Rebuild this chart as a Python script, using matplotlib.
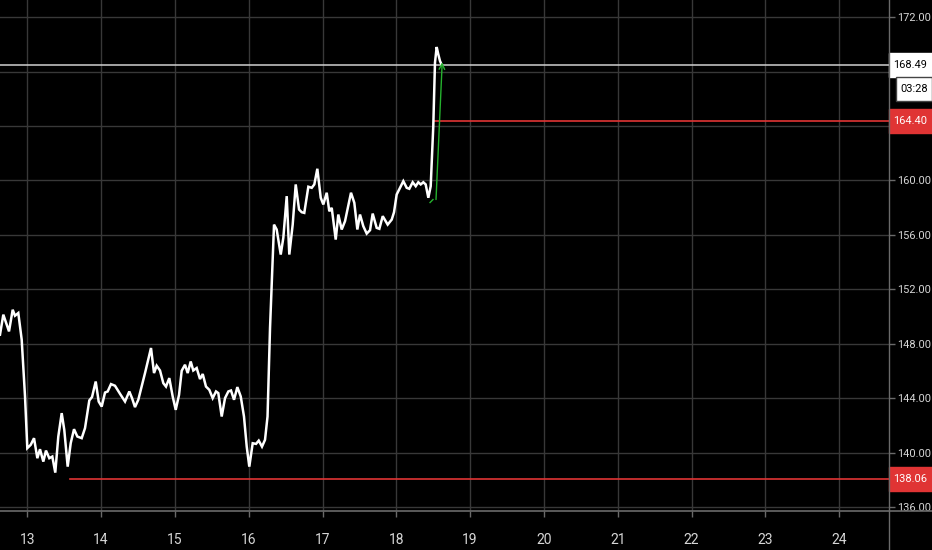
import matplotlib
matplotlib.use("Agg")
import matplotlib.pyplot as plt
import matplotlib.font_manager as fm
from matplotlib.patches import Rectangle
from matplotlib.lines import Line2D
from matplotlib.transforms import blended_transform_factory
import numpy as np

# ---------------- data ----------------
days = [12.630, 12.675, 12.752, 12.802, 12.833, 12.878, 12.924, 12.969, 13.000, 13.046,
        13.091, 13.136, 13.172, 13.217, 13.253, 13.298, 13.339, 13.379, 13.420, 13.466,
        13.501, 13.547, 13.588, 13.633, 13.678, 13.737, 13.782, 13.840, 13.877, 13.927,
        13.967, 14.008, 14.053, 14.089, 14.134, 14.188, 14.256, 14.324, 14.382, 14.419,
        14.459, 14.504, 14.595, 14.676, 14.717, 14.753, 14.798, 14.843, 14.879, 14.924,
        14.970, 15.011, 15.056, 15.092, 15.137, 15.173, 15.214, 15.249, 15.295, 15.340,
        15.377, 15.421, 15.466, 15.512, 15.557, 15.588, 15.634, 15.679, 15.724, 15.760,
        15.801, 15.846, 15.892, 15.936, 15.973, 16.008, 16.054, 16.099, 16.136, 16.180,
        16.221, 16.255, 16.289, 16.343, 16.379, 16.434, 16.469, 16.515, 16.550, 16.596,
        16.637, 16.682, 16.718, 16.753, 16.808, 16.854, 16.889, 16.930, 16.976, 17.011,
        17.057, 17.092, 17.125, 17.179, 17.214, 17.260, 17.305, 17.386, 17.431, 17.472,
        17.508, 17.553, 17.599, 17.644, 17.680, 17.734, 17.770, 17.816, 17.883, 17.938,
        17.969, 18.005, 18.095, 18.141, 18.176, 18.222, 18.263, 18.298, 18.331, 18.366,
        18.398, 18.434, 18.466, 18.501, 18.524, 18.547, 18.569, 18.592, 18.615]
prices = [148.68, 150.15, 148.92, 150.51, 150.07, 150.27, 148.31, 144.14, 140.35, 140.59,
          141.08, 139.61, 140.27, 139.36, 140.17, 139.61, 139.73, 138.55, 141.20, 142.92,
          141.69, 138.99, 140.71, 141.74, 141.20, 141.08, 141.82, 143.85, 144.10, 145.24,
          143.77, 143.40, 144.43, 144.51, 145.05, 144.93, 144.34, 143.77, 144.51, 144.02,
          143.36, 143.90, 145.86, 147.70, 145.86, 146.40, 146.05, 145.12, 144.87, 145.49,
          144.14, 143.16, 144.26, 146.03, 146.47, 145.86, 146.71, 146.05, 146.23, 145.42,
          145.79, 144.87, 144.63, 144.02, 144.51, 144.39, 142.67, 144.02, 144.51, 144.58,
          143.90, 144.83, 144.14, 142.67, 140.46, 138.99, 140.71, 140.66, 140.90, 140.46,
          140.96, 142.67, 149.19, 156.76, 156.40, 154.56, 155.79, 158.85, 154.56, 156.76,
          159.71, 157.87, 157.67, 157.62, 159.54, 159.46, 159.71, 160.86, 158.73, 158.24,
          159.10, 157.74, 157.99, 155.66, 157.50, 156.40, 157.01, 159.10, 158.36, 156.40,
          157.50, 156.64, 156.10, 156.35, 157.57, 156.52, 156.45, 157.38, 156.76, 157.13,
          157.67, 158.97, 159.95, 159.46, 159.39, 159.87, 159.58, 159.87, 159.71, 159.87,
          159.71, 158.73, 159.58, 163.99, 168.65, 169.80, 169.26, 168.77, 168.49]

last_price = 168.49
last_label = "168.49"
countdown = "03:28"

level_values = [164.40, 138.06]
level_labels = ["164.40", "138.06"]
level_starts = [18.515, 13.58]

arrow_days = [18.538, 18.622]
arrow_prices = [158.60, 168.68]
dash_days = [18.457, 18.497]
dash_prices = [158.38, 158.60]

x_ticks = list(range(13, 25))
x_tick_labels = [str(d) for d in x_ticks]
y_ticks = list(range(136, 173, 4))
# 164 and 168 labels are hidden behind the price-scale boxes in the original
y_tick_labels = ["" if v in (164, 168) else f"{v:.2f}" for v in y_ticks]

# ---------------- style ----------------
names = {f.name for f in fm.fontManager.ttflist}
FONT = "Roboto" if "Roboto" in names else ("Liberation Sans" if "Liberation Sans" in names else "DejaVu Sans")
plt.rcParams["font.family"] = [FONT, "DejaVu Sans"]
YS, XS = 7.9, 10.0

W, H = 932, 550
BG = "#000000"
GRID = "#383838"
AXIS = "#6a6a6a"
TXT = "#d6d6d6"
RED = "#e03434"
GREEN = "#25b22e"

fig = plt.figure(figsize=(W / 100, H / 100), dpi=100, facecolor=BG)
ax_right_px = 889
ax_bottom_px = 510.5
ax = fig.add_axes([0, (H - ax_bottom_px) / H, ax_right_px / W, ax_bottom_px / H])
ax.set_facecolor(BG)
ax.set_xlim(12.630, 24.676)
ax.set_ylim(135.77, 173.25)

for s in ax.spines.values():
    s.set_visible(False)

ax.set_xticks(x_ticks)
ax.set_xticklabels(x_tick_labels)
ax.set_yticks(y_ticks)
ax.set_yticklabels(y_tick_labels)
ax.yaxis.tick_right()
ax.grid(True, color=GRID, lw=1)
ax.tick_params(axis="x", colors=AXIS, length=4, width=1, pad=12, labelcolor=TXT, labelsize=XS)
ax.tick_params(axis="y", colors=AXIS, length=4, width=1, pad=1.8, labelcolor=TXT, labelsize=YS)
for lab in ax.get_yticklabels():
    lab.set_horizontalalignment("left")

# axis lines spanning figure
fig.add_artist(Line2D([ax_right_px / W] * 2, [0, 1], transform=fig.transFigure, color=AXIS, lw=1))
fig.add_artist(Line2D([0, 1], [(H - ax_bottom_px) / H] * 2, transform=fig.transFigure, color=AXIS, lw=1.2))

# last price horizontal line
ax.axhline(last_price, color="#d0d0d0", lw=1.1, zorder=3)

# level lines
for v, st in zip(level_values, level_starts):
    ax.plot([st, ax.get_xlim()[1]], [v, v], color=RED, lw=1.2, zorder=3)

# price line
ax.plot(days, prices, color="white", lw=1.8, zorder=5, solid_joinstyle="miter")

# green arrow
ax.annotate("", xy=(arrow_days[1], arrow_prices[1]), xytext=(arrow_days[0], arrow_prices[0]),
            arrowprops=dict(arrowstyle="->", color=GREEN, lw=1, mutation_scale=10,
                            shrinkA=0, shrinkB=0), zorder=6)
ax.plot(dash_days, dash_prices, color=GREEN, lw=1, zorder=6)

# label boxes on the price scale
px_per_unit = ax_bottom_px / (ax.get_ylim()[1] - ax.get_ylim()[0])
btrans = blended_transform_factory(fig.transFigure, ax.transData)


def scale_box(value, text, face, tcolor, x0px=889, x1px=932, hpx=24, dy_px=0, edge=None):
    yc = value - dy_px / px_per_unit
    hh = hpx / px_per_unit
    r = Rectangle((x0px / W, yc - hh / 2), (x1px - x0px) / W, hh, transform=btrans,
                  facecolor=face, edgecolor=edge if edge else face, lw=1, clip_on=False, zorder=10)
    ax.add_patch(r)
    ax.text((x0px + x1px) / 2 / W, yc, text, transform=btrans, color=tcolor,
            fontsize=YS, ha="center", va="center", clip_on=False, zorder=11)


scale_box(last_price, last_label, "white", "black")
scale_box(last_price, countdown, "white", "black", x0px=896, x1px=932, dy_px=24, edge="#444444")
for v, t in zip(level_values, level_labels):
    scale_box(v, t, RED, "white")

fig.savefig("out.png", dpi=100, facecolor=BG)
